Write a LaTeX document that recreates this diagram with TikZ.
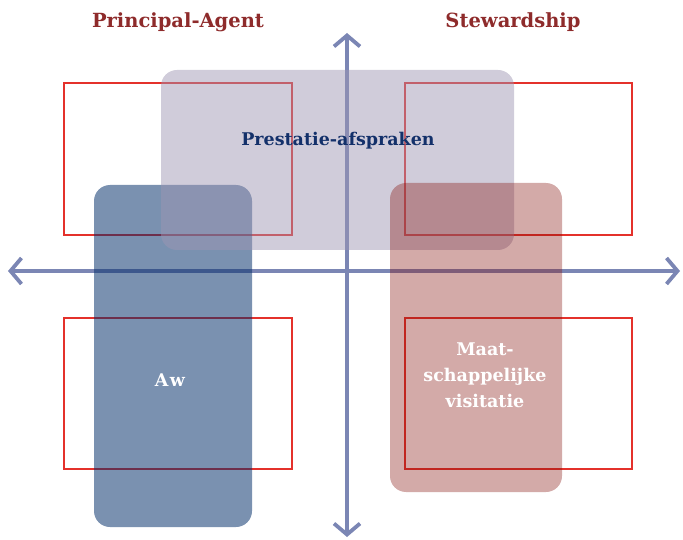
\documentclass[tikz,border=0pt]{standalone}
\usepackage{fontspec}
\setmainfont{DejaVu Serif}
\usetikzlibrary{arrows.meta}
\definecolor{axisblue}{HTML}{7B86B4}
\definecolor{quadred}{HTML}{E4312B}
\definecolor{titlered}{HTML}{8E2B2B}
\definecolor{navy}{HTML}{13306A}
\definecolor{greybox}{HTML}{9D95B2}
\definecolor{bluebox}{HTML}{042F6A}
\definecolor{pinkbox}{HTML}{85130F}
\tikzset{
  quad/.style={draw=quadred, line width=1.6pt},
  barb/.tip={Straight Barb[length=11pt,width=26pt,line width=3.8pt]},
  axis/.style={draw=axisblue, line width=3.8pt, barb-barb},
  region/.style={rounded corners=16pt},
  title/.style={text=titlered, font=\fontsize{19.5}{22}\selectfont\bfseries},
  lbl/.style={font=\fontsize{17.5}{26}\selectfont\bfseries, align=center}
}
\begin{document}
\begin{tikzpicture}[x=1pt,y=-1pt]
\useasboundingbox (0,0) rectangle (683,540);
% quadrant frames
\draw[quad] (64,83) rectangle (292,235);
\draw[quad] (405,83) rectangle (632,235);
\draw[quad] (64,318) rectangle (292,469);
\draw[quad] (405,318) rectangle (632,469);
% axes
\coordinate (xl) at (8,271);
\coordinate (xr) at (680,271);
\coordinate (yt) at (347,33);
\coordinate (yb) at (347,537);
\draw[axis] (xl) -- (xr);
\draw[axis] (yb) -- (yt);
% overlapping translucent regions
\fill[region, fill=bluebox, fill opacity=0.53] (94,185) rectangle (252,527);
\fill[region, fill=greybox, fill opacity=0.48] (161,70) rectangle (514,250);
\fill[region, fill=pinkbox, fill opacity=0.36] (390,183) rectangle (562,492);
% labels
\node[title] (pa) at (178,22) {Principal-Agent};
\node[title] (sw) at (513,22) {Stewardship};
\node[lbl, text=navy] (pr) at (338,141) {Prestatie-afspraken};
\node[lbl, text=white] (aw) at (170,380) {A\kern1.5pt w};
\node[lbl, text=white] (mv) at (485,375) {Maat-\\schappelijke\\visitatie};
\end{tikzpicture}
\end{document}
